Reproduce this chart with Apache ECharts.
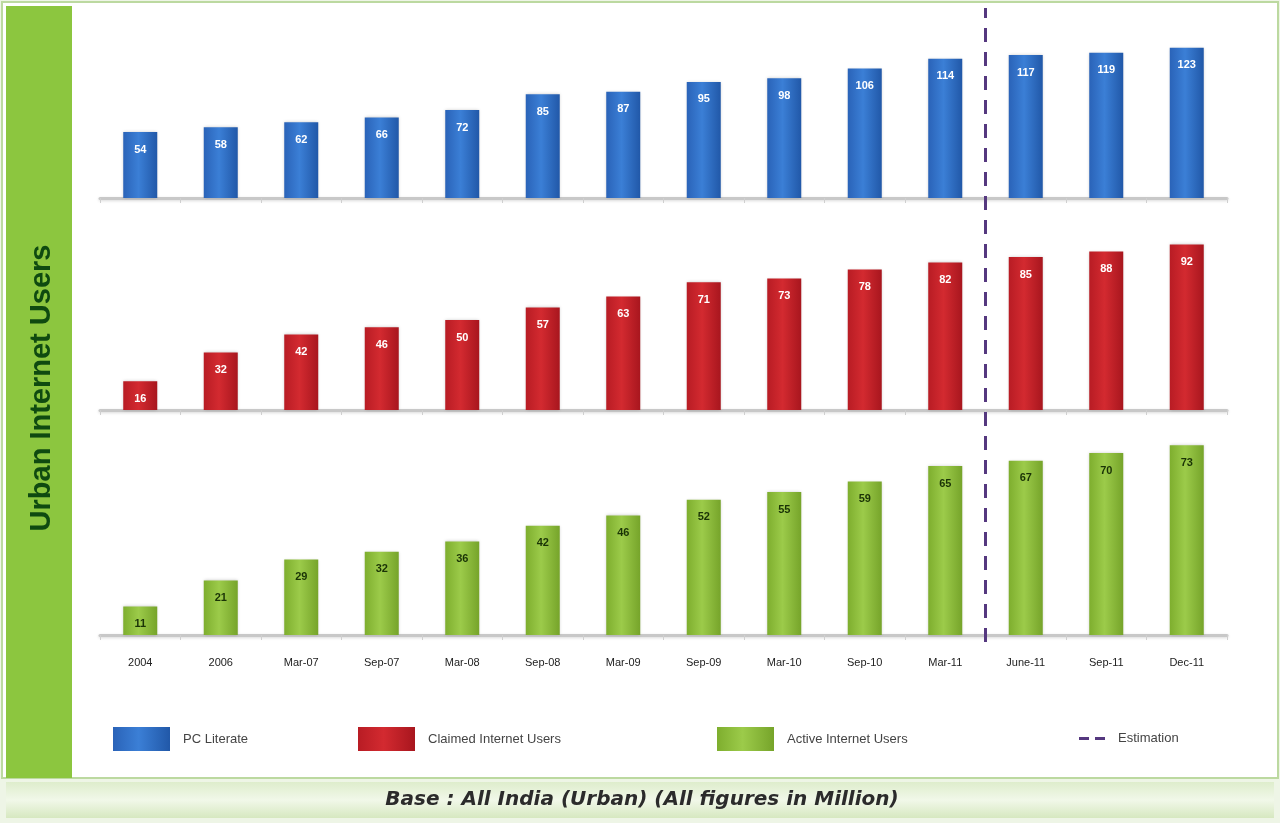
<!DOCTYPE html>
<html>
<head>
<meta charset="utf-8">
<script src="https://cdn.jsdelivr.net/npm/echarts@6/dist/echarts.min.js"></script>
<style>
html,body{margin:0;padding:0;background:#eef5e6;}
#chart{width:1280px;height:823px;}
</style>
</head>
<body>
<div id="chart"></div>
<script>
const categories = ['2004','2006','Mar-07','Sep-07','Mar-08','Sep-08','Mar-09','Sep-09','Mar-10','Sep-10','Mar-11','June-11','Sep-11','Dec-11'];
const pcLiterate   = [54, 58, 62, 66, 72, 85, 87, 95, 98, 106, 114, 117, 119, 123];
const claimedUsers = [16, 32, 42, 46, 50, 57, 63, 71, 73, 78, 82, 85, 88, 92];
const activeUsers  = [11, 21, 29, 32, 36, 42, 46, 52, 55, 59, 65, 67, 70, 73];
const estimationStart = 11; // boundary before 'June-11'
const seriesNames = ['PC Literate', 'Claimed Internet Users', 'Active Internet Users', 'Estimation'];

const chart = echarts.init(document.getElementById('chart'));

function grad(c1, c2, c3) {
  return new echarts.graphic.LinearGradient(0, 0, 1, 0, [
    {offset: 0, color: c1}, {offset: 0.45, color: c2}, {offset: 1, color: c3}
  ]);
}
const blue = grad('#2a63b8', '#3b7fd6', '#2158a8');
const red = grad('#b81c24', '#d32a30', '#a8161e');
const green = grad('#7eae2e', '#9ccb4a', '#76a42a');

const axisLine = {show: true, lineStyle: {color: '#c8c8c8', width: 3, shadowColor: 'rgba(0,0,0,0.15)', shadowBlur: 3, shadowOffsetY: 1}};
const axisTick = {show: true, alignWithLabel: false, length: 5, lineStyle: {color: '#cfcfcf', width: 1}};

function xCat(gi, showLabel) {
  return {
    type: 'category', gridIndex: gi, data: categories, boundaryGap: true,
    axisLine: axisLine, axisTick: axisTick,
    axisLabel: {show: showLabel, color: '#222', fontSize: 11, fontFamily: 'Liberation Sans Narrow, Liberation Sans, sans-serif', margin: 22}
  };
}
function yVal(gi, max) {
  return {type: 'value', gridIndex: gi, min: 0, max: max, show: false, splitLine: {show: false}};
}
function barLabel(color) {
  return {show: true, position: 'insideTop', distance: 12, fontSize: 11, fontWeight: 'bold', color: color, fontFamily: 'Liberation Sans Narrow, Liberation Sans, sans-serif'};
}

const legendText = {color: '#444', fontSize: 13, fontFamily: 'Liberation Sans Narrow, Liberation Sans, sans-serif', padding: [0, 0, 0, 8]};

chart.setOption({
  animation: false,
  backgroundColor: 'transparent',
  graphic: [
    {type: 'rect', z: -10, shape: {x: 2, y: 2, width: 1276, height: 776}, style: {fill: '#ffffff', stroke: '#bcd9a0', lineWidth: 2}},
    {type: 'rect', z: -9, shape: {x: 6, y: 6, width: 66, height: 772}, style: {fill: '#8cc63f'}},
    {type: 'text', z: 5, x: 42, y: 388, rotation: Math.PI / 2,
      style: {text: 'Urban Internet Users', fill: '#0f4a10', font: 'bold 29px "Liberation Sans Narrow", "Liberation Sans", sans-serif', align: 'center', verticalAlign: 'middle'}},
    {type: 'rect', z: -9, shape: {x: 6, y: 782, width: 1268, height: 36},
      style: {fill: new echarts.graphic.LinearGradient(0, 0, 0, 1, [{offset: 0, color: '#deedcc'}, {offset: 0.5, color: '#f1f8e9'}, {offset: 1, color: '#d6e8c0'}])}},
    {type: 'text', z: 5, x: 642, y: 800,
      style: {text: 'Base : All India (Urban) (All figures in Million)', fill: '#2b2b2b', font: 'italic bold 20px "DejaVu Sans", "Liberation Sans", sans-serif', align: 'center', verticalAlign: 'middle'}}
  ],
  legend: [
    {data: [seriesNames[0]], left: 108, top: 722, icon: 'rect', itemWidth: 57, itemHeight: 24, textStyle: legendText, selectedMode: false},
    {data: [seriesNames[1]], left: 353, top: 722, icon: 'rect', itemWidth: 57, itemHeight: 24, textStyle: legendText, selectedMode: false},
    {data: [seriesNames[2]], left: 712, top: 722, icon: 'rect', itemWidth: 57, itemHeight: 24, textStyle: legendText, selectedMode: false},
    {data: [{name: seriesNames[3], icon: 'path://M0,0H10V3H0Z M16,0H26V3H16Z'}], left: 1074, top: 727, itemWidth: 26, itemHeight: 3,
      textStyle: legendText, selectedMode: false}
  ],
  grid: [
    {left: 100, right: 53, top: 27, height: 171},
    {left: 100, right: 53, top: 230, height: 180},
    {left: 100, right: 53, top: 427, height: 208},
    {left: 100, right: 53, top: 8, height: 634}
  ],
  xAxis: [
    xCat(0, false), xCat(1, false), xCat(2, true),
    {type: 'value', gridIndex: 3, min: 0, max: categories.length, show: false, splitLine: {show: false}}
  ],
  yAxis: [
    yVal(0, 140), yVal(1, 100), yVal(2, 80),
    {type: 'value', gridIndex: 3, min: 0, max: 1, show: false, splitLine: {show: false}}
  ],
  series: [
    {name: seriesNames[0], type: 'bar', xAxisIndex: 0, yAxisIndex: 0, data: pcLiterate, barWidth: 34,
      itemStyle: {color: blue, shadowColor: 'rgba(0,0,0,0.2)', shadowBlur: 3}, label: barLabel('#ffffff')},
    {name: seriesNames[1], type: 'bar', xAxisIndex: 1, yAxisIndex: 1, data: claimedUsers, barWidth: 34,
      itemStyle: {color: red, shadowColor: 'rgba(0,0,0,0.2)', shadowBlur: 3}, label: barLabel('#ffffff')},
    {name: seriesNames[2], type: 'bar', xAxisIndex: 2, yAxisIndex: 2, data: activeUsers, barWidth: 34,
      itemStyle: {color: green, shadowColor: 'rgba(0,0,0,0.2)', shadowBlur: 3}, label: barLabel('#1a3306')},
    {name: seriesNames[3], type: 'line', xAxisIndex: 3, yAxisIndex: 3, symbol: 'none', z: 10,
      data: [[estimationStart, 0], [estimationStart, 1]],
      lineStyle: {color: '#55387f', width: 3, type: [14, 10]}, itemStyle: {color: '#55387f'}}
  ]
});
</script>
</body>
</html>
